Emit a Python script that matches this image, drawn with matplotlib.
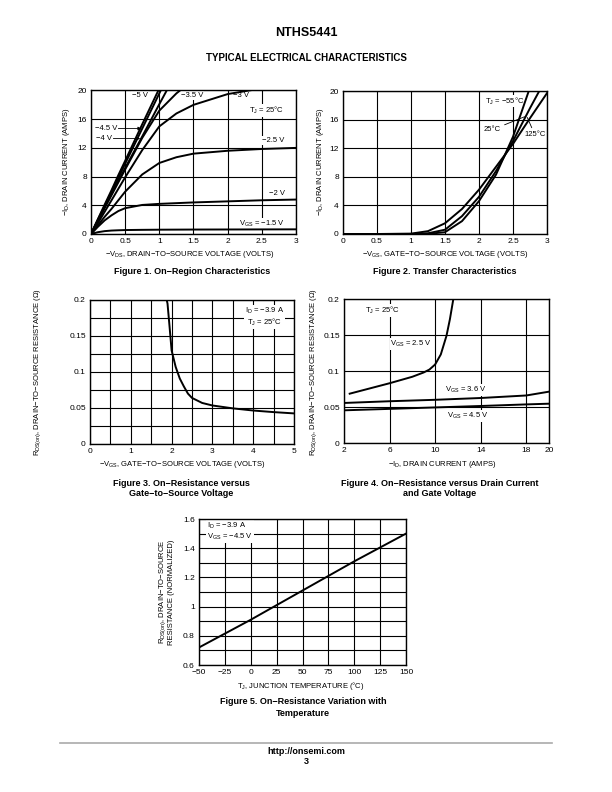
import matplotlib
matplotlib.use("Agg")
import matplotlib.pyplot as plt
from matplotlib.ticker import MultipleLocator

plt.rcParams['font.family'] = ['Liberation Sans', 'DejaVu Sans']
plt.rcParams['mathtext.fontset'] = 'custom'
plt.rcParams['mathtext.rm'] = 'Liberation Sans'
plt.rcParams['mathtext.it'] = 'Liberation Sans'
plt.rcParams['mathtext.bf'] = 'Liberation Sans:bold'

# Figure 1 - on-region characteristics
vds = [0, 0.1, 0.2, 0.3, 0.4, 0.5, 0.75, 1.0, 1.25, 1.5, 2.0, 2.5, 3.0]
id_vgs = {
    '-1.5': [0, 0.25, 0.4, 0.48, 0.52, 0.55, 0.58, 0.6, 0.61, 0.62, 0.63, 0.64, 0.65],
    '-2': [0, 1.0, 1.9, 2.6, 3.2, 3.6, 4.05, 4.2, 4.3, 4.4, 4.55, 4.7, 4.8],
    '-2.5': [0, 1.2, 2.4, 3.5, 4.7, 5.9, 8.3, 9.9, 10.7, 11.2, 11.6, 11.85, 12.0],
    '-3': [0, 1.5, 3.1, 4.7, 6.3, 7.9, 11.7, 15.0, 16.8, 18.0, 19.5, 20.3, 20.8],
    '-3.5': [0, 1.8, 3.6, 5.4, 7.2, 9.0, 13.4, 17.2, 19.6, 21.5, 24.0, 26.0, 27.0],
    '-4': [0, 1.9, 3.8, 5.6, 7.4, 9.2, 13.6, 18.1, 22.5, 26.0, 30.0, 32.0, 33.0],
    '-4.5': [0, 2.0, 3.9, 5.9, 7.8, 9.8, 14.7, 19.6, 24.5, 28.0, 32.0, 34.0, 35.0],
    '-5': [0, 2.05, 4.1, 6.1, 8.2, 10.2, 15.3, 20.3, 25.0, 29.0, 33.0, 35.0, 36.0],
}

# Figure 2 - transfer characteristics
vgs_t = [0, 0.5, 1.0, 1.25, 1.5, 1.75, 2.0, 2.25, 2.5, 2.75, 3.0]
id_m55 = [0, 0, 0, 0.02, 0.25, 1.8, 4.6, 8.3, 13.6, 20.5, 25.0]
id_25 = [0, 0, 0.01, 0.1, 0.6, 2.5, 5.2, 8.8, 13.0, 17.6, 22.0]
id_125 = [0, 0, 0.05, 0.4, 1.5, 3.5, 6.2, 9.4, 12.6, 16.2, 19.7]

# Figure 3 - on-resistance vs gate voltage
vgs_r = [1.88, 1.9, 1.95, 2.0, 2.1, 2.2, 2.3, 2.4, 2.5, 2.75, 3.0, 3.5, 4.0, 4.5, 5.0]
r_vgs = [0.2, 0.195, 0.163, 0.13, 0.107, 0.091, 0.08, 0.07, 0.064, 0.057, 0.0535,
         0.0495, 0.0465, 0.0443, 0.0425]

# Figure 4 - on-resistance vs drain current
id_25v = [2.5, 6, 8, 9, 9.5, 10, 10.5, 11, 11.3, 11.6]
r_25v = [0.0685, 0.083, 0.092, 0.098, 0.102, 0.109, 0.123, 0.149, 0.172, 0.2]
id_line = [2, 6, 10, 14, 18, 20]
r_36v = [0.0556, 0.058, 0.060, 0.0625, 0.066, 0.0713]
r_45v = [0.0454, 0.0474, 0.0494, 0.0514, 0.0536, 0.0546]

# Figure 5 - normalized on-resistance vs temperature
temp = [-50, 0, 50, 100, 150]
r_norm = [0.72, 0.91, 1.11, 1.31, 1.50]

W, H = 612, 792
fig = plt.figure(figsize=(W / 100, H / 100), dpi=100)


def axes_px(left, top, right, bottom):
    return fig.add_axes([left / W, 1 - bottom / H, (right - left) / W, (bottom - top) / H])


def ftext(x, y, s, **kw):
    kw.setdefault('ha', 'center')
    kw.setdefault('va', 'center')
    fig.text(x / W, 1 - y / H, s, **kw)


def style(ax):
    ax.set_axisbelow(True)
    ax.grid(True, which='both', color='black', lw=0.8)
    ax.tick_params(which='both', length=0, labelsize=6, pad=3)
    for sp in ax.spines.values():
        sp.set_linewidth(1.0)


box = dict(facecolor='white', edgecolor='none', pad=0.6)
lbl = dict(fontsize=5.5, bbox=box, zorder=2.5)
cap = dict(fontsize=6.5, fontweight='bold')
axl = dict(fontsize=5.5)

# ---- Figure 1
ax1 = axes_px(91, 90.5, 296, 234)
for k, v in id_vgs.items():
    ax1.plot(vds, v, color='black', lw=1.4, zorder=3)
ax1.set_xlim(0, 3)
ax1.set_ylim(0, 20)
ax1.set_xticks([0, 0.5, 1, 1.5, 2, 2.5, 3])
ax1.set_xticklabels(['0', '0.5', '1', '1.5', '2', '2.5', '3'])
ax1.yaxis.set_major_locator(MultipleLocator(4))
style(ax1)
ax1.text(0.72, 19.3, '−5 V', ha='center', va='center', **lbl)
ax1.text(1.48, 19.3, '−3.5 V', ha='center', va='center', **lbl)
ax1.text(2.19, 19.3, '−3 V', ha='center', va='center', **lbl)
ax1.text(2.57, 17.2, r'T$_\mathrm{J}$ = 25°C', ha='center', va='center', **lbl)
ax1.text(2.67, 13.0, '−2.5 V', ha='center', va='center', **lbl)
ax1.text(2.72, 5.7, '−2 V', ha='center', va='center', **lbl)
ax1.text(2.5, 1.4, r'V$_\mathrm{GS}$ = −1.5 V', ha='center', va='center', **lbl)
ax1.annotate('−4.5 V', xy=(0.74, 14.7), xytext=(0.06, 14.7), ha='left', va='center',
             fontsize=5.5, bbox=box, zorder=2.5,
             arrowprops=dict(arrowstyle='-|>', lw=0.6, color='black', mutation_scale=5,
                             shrinkA=0, shrinkB=0))
ax1.annotate('−4 V', xy=(0.72, 13.3), xytext=(0.08, 13.3), ha='left', va='center',
             fontsize=5.5, bbox=box, zorder=2.5,
             arrowprops=dict(arrowstyle='-|>', lw=0.6, color='black', mutation_scale=5,
                             shrinkA=0, shrinkB=0))
ftext(190, 255, r'−V$_\mathrm{DS}$, DRAIN−TO−SOURCE VOLTAGE (VOLTS)', **axl)
ftext(67, 162, r'−I$_\mathrm{D}$, DRAIN CURRENT (AMPS)', rotation=90, **axl)
ftext(192, 271, 'Figure 1. On−Region Characteristics', **cap)

# ---- Figure 2
ax2 = axes_px(343, 91, 547, 234)
ax2.plot(vgs_t, id_m55, color='black', lw=1.4, zorder=3)
ax2.plot(vgs_t, id_25, color='black', lw=1.4, zorder=3)
ax2.plot(vgs_t, id_125, color='black', lw=1.4, zorder=3)
ax2.set_xlim(0, 3)
ax2.set_ylim(0, 20)
ax2.set_xticks([0, 0.5, 1, 1.5, 2, 2.5, 3])
ax2.set_xticklabels(['0', '0.5', '1', '1.5', '2', '2.5', '3'])
ax2.yaxis.set_major_locator(MultipleLocator(4))
style(ax2)
ax2.text(2.38, 18.6, r'T$_\mathrm{J}$ = −55°C', ha='center', va='center', **lbl)
ax2.annotate('25°C', xy=(2.67, 16.4), xytext=(2.2, 14.6), ha='center', va='center',
             fontsize=5.5, bbox=box, zorder=2.5,
             arrowprops=dict(arrowstyle='-', lw=0.6, color='black', shrinkA=2, shrinkB=0))
ax2.annotate('125°C', xy=(2.71, 16.3), xytext=(2.82, 13.9), ha='center', va='center',
             fontsize=5.5, bbox=box, zorder=2.5,
             arrowprops=dict(arrowstyle='-', lw=0.6, color='black', shrinkA=2, shrinkB=0))
ftext(445, 255, r'−V$_\mathrm{GS}$, GATE−TO−SOURCE VOLTAGE (VOLTS)', **axl)
ftext(320, 162, r'−I$_\mathrm{D}$, DRAIN CURRENT (AMPS)', rotation=90, **axl)
ftext(445, 271, 'Figure 2. Transfer Characteristics', **cap)

# ---- Figure 3
ax3 = axes_px(90, 300, 294, 444)
ax3.plot(vgs_r, r_vgs, color='black', lw=1.4, zorder=3)
ax3.set_xlim(0, 5)
ax3.set_ylim(0, 0.2)
ax3.xaxis.set_major_locator(MultipleLocator(1))
ax3.xaxis.set_minor_locator(MultipleLocator(0.5))
ax3.set_yticks([0, 0.05, 0.1, 0.15, 0.2])
ax3.set_yticklabels(['0', '0.05', '0.1', '0.15', '0.2'])
ax3.yaxis.set_minor_locator(MultipleLocator(0.025))
style(ax3)
ax3.text(4.28, 0.177, 'I$_\\mathrm{D}$ = −3.9 A\nT$_\\mathrm{J}$ = 25°C', ha='center',
         va='center', linespacing=1.1, **lbl)
ftext(182, 464, r'−V$_\mathrm{GS}$, GATE−TO−SOURCE VOLTAGE (VOLTS)', **axl)
ftext(38, 372, r'R$_\mathrm{DS(on)}$, DRAIN−TO−SOURCE RESISTANCE (Ω)', rotation=90, **axl)
ftext(181, 483, 'Figure 3. On−Resistance versus', **cap)
ftext(181, 494, 'Gate−to−Source Voltage', **cap)

# ---- Figure 4
ax4 = axes_px(344, 299, 549, 443)
ax4.plot(id_25v, r_25v, color='black', lw=1.4, zorder=3)
ax4.plot(id_line, r_36v, color='black', lw=1.4, zorder=3)
ax4.plot(id_line, r_45v, color='black', lw=1.4, zorder=3)
ax4.set_xlim(2, 20)
ax4.set_ylim(0, 0.2)
ax4.set_xticks([2, 6, 10, 14, 18, 20])
ax4.set_yticks([0, 0.05, 0.1, 0.15, 0.2])
ax4.set_yticklabels(['0', '0.05', '0.1', '0.15', '0.2'])
style(ax4)
ax4.text(5.4, 0.184, r'T$_\mathrm{J}$ = 25°C', ha='center', va='center', **lbl)
ax4.text(7.9, 0.138, r'V$_\mathrm{GS}$ = 2.5 V', ha='center', va='center', **lbl)
ax4.text(12.7, 0.0735, r'V$_\mathrm{GS}$ = 3.6 V', ha='center', va='center', **lbl)
ax4.text(12.9, 0.038, r'V$_\mathrm{GS}$ = 4.5 V', ha='center', va='center', **lbl)
ftext(442, 465, r'−I$_\mathrm{D}$, DRAIN CURRENT (AMPS)', **axl)
ftext(314, 372, r'R$_\mathrm{DS(on)}$, DRAIN−TO−SOURCE RESISTANCE (Ω)', rotation=90, **axl)
ftext(440, 483, 'Figure 4. On−Resistance versus Drain Current', **cap)
ftext(440, 494, 'and Gate Voltage', **cap)

# ---- Figure 5
ax5 = axes_px(199, 519, 406, 665)
ax5.plot(temp, r_norm, color='black', lw=1.4, zorder=3)
ax5.set_xlim(-50, 150)
ax5.set_ylim(0.6, 1.6)
ax5.xaxis.set_major_locator(MultipleLocator(25))
ax5.set_yticks([0.6, 0.8, 1.0, 1.2, 1.4, 1.6])
ax5.set_yticklabels(['0.6', '0.8', '1', '1.2', '1.4', '1.6'])
ax5.yaxis.set_minor_locator(MultipleLocator(0.1))
style(ax5)
ax5.text(-42, 1.515, 'I$_\\mathrm{D}$ = −3.9 A\nV$_\\mathrm{GS}$ = −4.5 V', ha='left',
         va='center', linespacing=1.1, **lbl)
ftext(301, 686, r'T$_\mathrm{J}$, JUNCTION TEMPERATURE (°C)', **axl)
ftext(166, 592, 'R$_\\mathrm{DS(on)}$, DRAIN−TO−SOURCE\nRESISTANCE (NORMALIZED)',
      rotation=90, linespacing=1.0, **axl)
ftext(303, 702, 'Figure 5. On−Resistance Variation with', **cap)
ftext(303, 713, 'Temperature', **cap)

# ---- page header / footer
ftext(306, 33, 'NTHS5441', fontsize=9, fontweight='bold')
ftext(306, 58, 'TYPICAL ELECTRICAL CHARACTERISTICS', fontsize=7, fontweight='bold')
fig.add_artist(plt.Line2D([60 / W, 552 / W], [1 - 743 / H, 1 - 743 / H],
                          color='#aaaaaa', lw=1.2))
ftext(306, 752, 'http://onsemi.com', fontsize=6.5, fontweight='bold')
ftext(306, 762, '3', fontsize=6.5, fontweight='bold')

fig.savefig('out.png', dpi=100, facecolor='white')
